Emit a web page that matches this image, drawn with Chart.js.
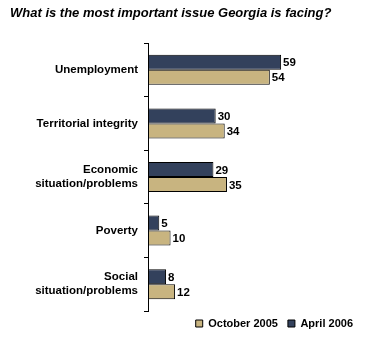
<!DOCTYPE html>
<html><head><meta charset="utf-8">
<script src="https://cdn.jsdelivr.net/npm/chart.js@4/dist/chart.umd.min.js"></script>
<style>html,body{margin:0;padding:0;background:#fff}#wrap{width:368px;height:352px}</style>
</head><body><div id="wrap"><canvas id="c" width="368" height="352"></canvas></div>
<script>
const categories = [["Unemployment"],["Territorial integrity"],["Economic","situation/problems"],["Poverty"],["Social","situation/problems"]];
const seriesNames = ["April 2006","October 2005"];
const april2006 = [59,30,29,5,8];
const october2005 = [54,34,35,10,12];
const titleText = "What is the most important issue Georgia is facing?";

const valueLabels = {
  id:'valueLabels',
  afterLayout(chart){
    if (chart.legend){ chart.legend.top -= 3; chart.legend.bottom -= 3; }
  },
  afterDatasetsDraw(chart){
    const ctx = chart.ctx;
    ctx.save();
    ctx.font = 'bold 11.5px "Liberation Sans", Arial, sans-serif';
    ctx.fillStyle = '#000';
    ctx.textBaseline = 'middle';
    ctx.textAlign = 'left';
    chart.data.datasets.forEach((ds,i)=>{
      chart.getDatasetMeta(i).data.forEach((el,j)=>{
        ctx.fillText(String(ds.data[j]), el.x + 2, el.y + 1);
      });
    });
    ctx.restore();
  }
};

new Chart(document.getElementById('c'),{
  type:'bar',
  data:{
    labels:categories,
    datasets:[
      {label:seriesNames[0],data:april2006,backgroundColor:'#33415c',borderColor:'#000',borderWidth:1,borderSkipped:false},
      {label:seriesNames[1],data:october2005,backgroundColor:'#c8b480',borderColor:'#000',borderWidth:1,borderSkipped:false}
    ]
  },
  options:{
    indexAxis:'y',
    responsive:false,
    animation:false,
    devicePixelRatio:1,
    layout:{padding:{left:10,right:5,top:0,bottom:10}},
    datasets:{bar:{barPercentage:1,categoryPercentage:0.56}},
    scales:{
      x:{display:false,min:0,max:95.3},
      y:{
        afterFit(s){s.width=138;},
        grid:{drawOnChartArea:false,tickLength:4,color:'#000',offset:true},
        border:{color:'#000',width:1},
        ticks:{color:'#000',padding:6,font:{family:'"Liberation Sans", Arial, sans-serif',size:11.5,weight:'bold',lineHeight:1.22}}
      }
    },
    plugins:{
      title:{display:true,text:titleText,align:'start',color:'#000',
        font:{family:'"Liberation Sans", Arial, sans-serif',size:13,weight:'bold',style:'italic'},
        padding:{top:6,bottom:21.4}},
      legend:{position:'bottom',align:'end',reverse:true,
        labels:{boxWidth:7,boxHeight:7,color:'#000',padding:10,
          font:{family:'"Liberation Sans", Arial, sans-serif',size:11,weight:'bold'}}},
      tooltip:{enabled:false}
    }
  },
  plugins:[valueLabels]
});
</script></body></html>
